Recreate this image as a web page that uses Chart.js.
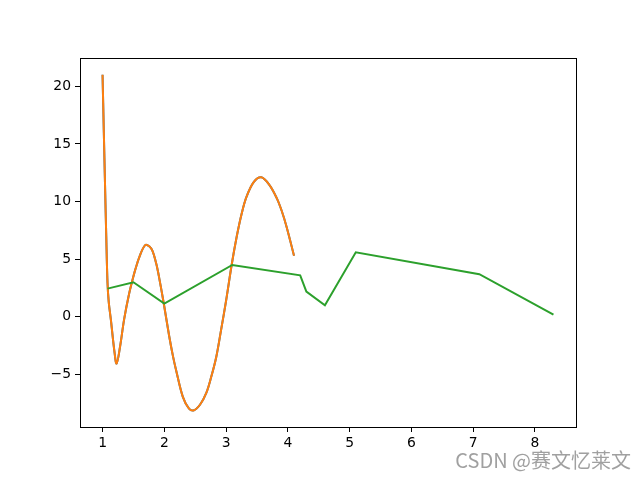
<!DOCTYPE html>
<html>
<head>
  <title>Curve and polyline</title>
  <script src="https://cdn.jsdelivr.net/npm/chart.js"></script>
  <style>
    body {
      margin: 0;
      background-color: #FFFFFF;
    }
  </style>
</head>
<body>
  <canvas id="curveChart" width="640" height="480"></canvas>

  <script>
    // smooth curve (blue one sits right under the orange one)
    const curveX = [1.00, 1.02, 1.04, 1.06, 1.08, 1.10, 1.136, 1.19, 1.227, 1.28, 1.35, 1.43, 1.49, 1.53, 1.60, 1.69,
                    1.76, 1.81, 1.87, 1.92, 1.99, 2.08, 2.14, 2.19, 2.30, 2.40, 2.48, 2.58, 2.68, 2.76, 2.84, 2.92,
                    3.00, 3.09, 3.17, 3.25, 3.33, 3.45, 3.57, 3.70, 3.82, 3.90, 3.98, 4.10];
    const curveY = [21.0, 16.2, 11.5, 7.0, 3.0, 1.3, -0.3, -2.9, -4.05, -2.7, -0.2, 2.0, 3.3, 4.1, 5.25, 6.22,
                    6.1, 5.7, 4.6, 3.3, 1.2, -1.7, -3.4, -4.6, -6.94, -7.95, -8.1, -7.6, -6.6, -5.2, -3.5, -1.1,
                    1.4, 4.5, 6.9, 8.9, 10.4, 11.7, 12.1, 11.45, 10.3, 9.2, 7.8, 5.3];

    // green polyline
    const lineX = [1.08, 1.5, 2.0, 3.1, 4.2, 4.3, 4.6, 5.1, 7.1, 8.3];
    const lineY = [2.45, 3.0, 1.15, 4.5, 3.6, 2.2, 1.0, 5.6, 3.7, 0.2];

    const xTicks = [1, 2, 3, 4, 5, 6, 7, 8];
    const yTicks = [-5, 0, 5, 10, 15, 20];

    const toPoints = (xs, ys) => xs.map((x, i) => ({ x: x, y: ys[i] }));
    const fmt = (v) => (v < 0 ? '\u2212' + Math.abs(v) : String(v));
    const tickFont = { family: 'DejaVu Sans', size: 13.9 };

    // axes box + watermark
    const framePlugin = {
      id: 'frame',
      afterDraw: (chart) => {
        const ctx = chart.ctx;
        const a = chart.chartArea;
        ctx.save();
        ctx.strokeStyle = '#000000';
        ctx.lineWidth = 1;
        ctx.strokeRect(Math.round(a.left) + 0.5, Math.round(a.top) + 0.5,
                       Math.round(a.right - a.left), Math.round(a.bottom - a.top));
        ctx.font = '20px "Noto Sans CJK SC", "Liberation Sans", sans-serif';
        ctx.fillStyle = 'rgba(150, 150, 150, 0.9)';
        ctx.textAlign = 'right';
        ctx.textBaseline = 'middle';
        ctx.fillText('CSDN @赛文忆莱文', 631, 460);
        ctx.restore();
      }
    };

    const ctx = document.getElementById('curveChart').getContext('2d');
    window.chart = new Chart(ctx, {
      type: 'line',
      data: {
        datasets: [
          {
            label: 'line',
            data: toPoints(lineX, lineY),
            borderColor: '#2ca02c',
            borderWidth: 2,
            pointRadius: 0,
            tension: 0,
            fill: false,
          },
          {
            label: 'curve',
            data: toPoints(curveX, curveY),
            borderColor: '#ff7f0e',
            borderWidth: 2,
            pointRadius: 0,
            tension: 0.35,
            fill: false,
          },
          {
            label: 'curve (under)',
            data: toPoints(curveX, curveY),
            borderColor: '#1f77b4',
            borderWidth: 2,
            pointRadius: 0,
            tension: 0.35,
            fill: false,
          },
        ],
      },
      options: {
        responsive: false,
        animation: false,
        layout: { padding: { left: 0, right: 64, top: 58, bottom: 0 } },
        plugins: {
          legend: { display: false },
          tooltip: { enabled: false },
        },
        scales: {
          x: {
            type: 'linear',
            min: 0.635,
            max: 8.665,
            afterFit: (scale) => { scale.height = 53; },
            afterBuildTicks: (scale) => { scale.ticks = xTicks.map((v) => ({ value: v })); },
            grid: {
              drawOnChartArea: false,
              color: '#000000',
              tickLength: 5,
            },
            border: { display: true, color: '#000000' },
            ticks: {
              color: '#000000',
              font: tickFont,
              padding: 3,
              maxRotation: 0,
              callback: (value) => fmt(value),
            },
          },
          y: {
            type: 'linear',
            min: -9.55,
            max: 22.45,
            afterFit: (scale) => { scale.width = 80; },
            afterBuildTicks: (scale) => { scale.ticks = yTicks.map((v) => ({ value: v })); },
            grid: {
              drawOnChartArea: false,
              color: '#000000',
              tickLength: 5,
            },
            border: { display: true, color: '#000000' },
            ticks: {
              color: '#000000',
              font: tickFont,
              padding: 4,
              callback: (value) => fmt(value),
            },
          },
        },
      },
      plugins: [framePlugin],
    });
  </script>
</body>
</html>
